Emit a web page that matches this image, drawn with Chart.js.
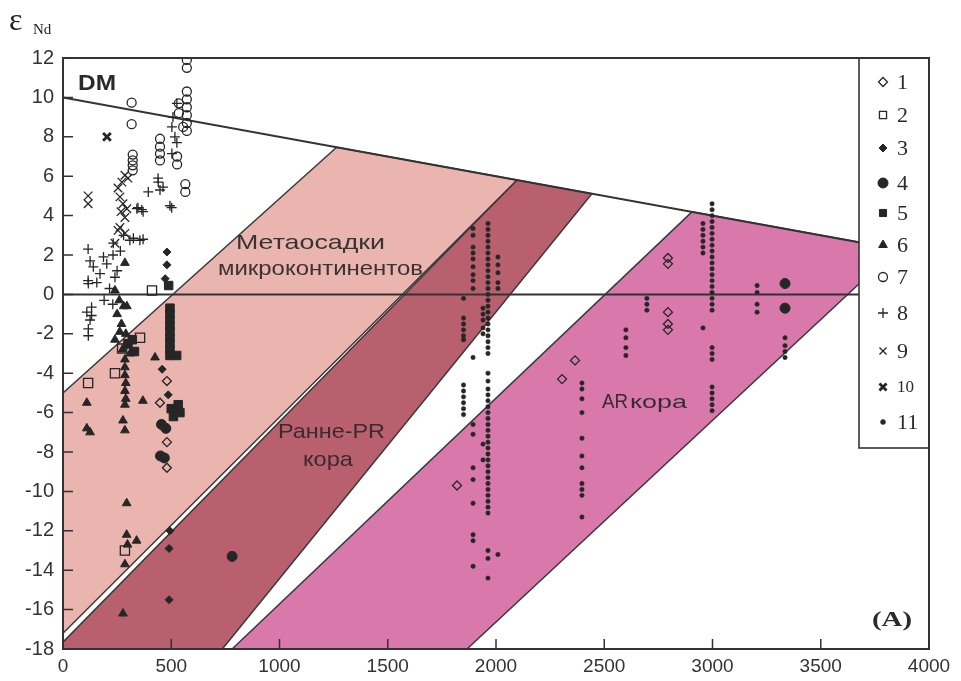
<!DOCTYPE html>
<html>
<head>
<meta charset="utf-8">
<script src="https://cdn.jsdelivr.net/npm/chart.js@4/dist/chart.umd.min.js"></script>
<style>
  html, body { margin: 0; padding: 0; background: #fff; }
  #wrap { width: 961px; height: 681px; }
</style>
</head>
<body>
<div id="wrap"><canvas id="ndChart" width="961" height="681"></canvas></div>
<script>
// axis ticks
const xTicks = [0, 500, 1000, 1500, 2000, 2500, 3000, 3500, 4000];
const yTicks = [-18, -16, -14, -12, -10, -8, -6, -4, -2, 0, 2, 4, 6, 8, 10, 12];

// model lines and fields (age Ma, eps Nd)
const dmLine = [[0, 10], [4000, 2]];
const zeroLine = [[0, 0], [4000, 0]];
const bandMeta = [[0, -5], [1264, 7.47], [2097, 5.81], [0, -17.2], [0, -5]];
const bandEarlyPR = [[0, -17.65], [2097, 5.81], [2443, 5.11], [736, -18], [0, -18], [0, -17.65]];
const bandAR = [[781, -18], [2905, 4.19], [3850, 2.3], [1866, -18], [781, -18]];

// samples, legend groups 1..11
const group1 = [[480, -4.4], [448, -5.5], [480, -7.5], [480, -8.8], [2794, 1.85], [2794, 1.55],
  [2794, -0.9], [2794, -1.5], [2794, -1.8], [2365, -3.35], [2305, -4.3], [1820, -9.7]];
const group2 = [[411, 0.2], [116, -4.5], [240, -4.0], [356, -2.2], [286, -13.0], [273, -2.75]];
const group3 = [[480, 2.15], [480, 1.5], [472, 0.8], [458, -3.8], [486, -5.1], [494, -12.0], [490, -12.9], [490, -15.5]];
const group4 = [[455, -6.6], [475, -6.8], [450, -8.2], [468, -8.3], [781, -13.3], [3335, 0.55], [3335, -0.7]];
const group5 = [[488, 0.45], [494, -0.7], [494, -1.0], [494, -1.3], [494, -1.6], [494, -1.9], [494, -2.2],
  [494, -2.5], [494, -2.8], [494, -3.1], [525, -3.1], [500, -5.8], [520, -5.9], [540, -6.0], [510, -6.2],
  [532, -5.6], [300, -2.5], [320, -2.3], [330, -2.9]];
const group6 = [[110, -5.5], [110, -6.8], [125, -7.0], [277, -6.4], [286, -6.9], [369, -5.4], [294, -10.6],
  [294, -12.2], [298, -12.7], [340, -12.5], [286, -13.7], [277, -16.2], [425, -3.2], [286, -3.3],
  [286, -3.7], [286, -4.1], [290, -4.5], [286, -4.9], [290, -5.3], [286, -5.6], [250, -1.0], [270, -1.5],
  [290, -2.0], [300, -2.6], [275, -2.8], [310, -3.0], [260, -0.3], [280, -0.6], [240, 0.2], [286, 1.6],
  [295, -0.6], [262, -1.9], [240, -2.3]];
const group7 = [[317, 9.73], [317, 8.64], [322, 7.1], [322, 6.8], [322, 6.55], [322, 6.3], [448, 7.9],
  [448, 7.5], [448, 7.15], [448, 6.8], [572, 11.9], [572, 11.5], [572, 10.3], [572, 9.9], [572, 9.5],
  [572, 9.1], [572, 8.7], [572, 8.3], [535, 9.7], [535, 9.2], [527, 7.0], [527, 6.6], [565, 5.6],
  [565, 5.2], [555, 8.5]];
const group8 = [[502, 4.4], [462, 5.45], [440, 5.7], [394, 5.2], [341, 4.35], [370, 4.2], [370, 2.8],
  [325, 2.85], [232, 2.6], [116, 2.3], [187, 1.9], [140, 1.4], [171, 1.05], [117, 0.55], [202, 1.55],
  [110, -0.9], [125, -1.3], [117, -1.75], [132, -0.65], [132, -1.07], [117, -2.1], [364, 4.3], [309, 2.75],
  [355, 2.75], [125, 1.7], [231, 2.0], [116, 0.7], [156, 0.6], [240, 0.87], [448, 5.3], [494, 4.5],
  [346, 4.4], [439, 5.9], [503, 7.15], [517, 8.0], [526, 9.7], [508, 9.0], [503, 8.5], [526, 7.7],
  [280, 3.0], [265, 2.2], [250, 1.2], [215, 0.3], [190, -0.3], [230, -0.5]];
const group9 = [[116, 5.0], [116, 4.6], [272, 5.7], [254, 5.4], [263, 4.95], [277, 4.6], [286, 6.05],
  [295, 4.35], [286, 3.9], [263, 3.4], [254, 3.25], [286, 3.1], [240, 2.6], [300, 5.9], [268, 4.2]];
const group10 = [[203, 8.0]];
// group 11: columns of small dots, [age, [eps values]]
const group11Cols = [
  [1850, [-0.2, -1.2, -1.5, -1.8, -2.1, -2.3, -4.6, -4.9, -5.2, -5.5, -5.8, -6.1]],
  [1894, [3.35, 3.0, 2.4, 2.1, 1.8, 1.4, 1.0, 0.7, 0.3, -3.2, -6.6, -7.1, -8.8, -9.4, -10.6, -12.2, -12.5, -13.8]],
  [1963, [3.6, 3.3, 3.0, 2.7, 2.4, 2.1, 1.8, 1.5, 1.2, 0.9, 0.6, 0.3, 0.0, -0.3, -0.6, -0.9, -1.2, -1.5,
    -1.8, -2.1, -2.4, -2.7, -3.0, -4.0, -4.4, -4.8, -5.1, -5.4, -5.7, -6.0, -6.3, -6.6, -6.9, -7.2, -7.5,
    -7.8, -8.1, -8.4, -8.7, -9.0, -9.3, -9.6, -9.9, -10.2, -10.5, -10.8, -11.1, -13.0, -13.4, -14.4]],
  [1940, [-0.7, -1.0, -1.3, -1.7, -2.0, -7.6, -8.4]],
  [2009, [1.9, 1.5, 1.1, 0.6, 0.3, -13.2]],
  [2397, [-4.5, -4.8, -5.3, -6.0, -7.3, -8.2, -8.8, -9.6, -9.9, -10.2, -11.3]],
  [2600, [-1.8, -2.2, -2.7, -3.1]],
  [2697, [-0.2, -0.5, -0.8]],
  [2998, [4.6, 4.3, 4.0, 3.7, 3.4, 3.1, 2.8, 2.5, 2.2, 1.9, 1.6, 1.3, 1.0, 0.7, 0.4, 0.1, -0.2, -0.5, -0.8,
    -2.7, -3.0, -3.3, -4.7, -5.0, -5.3, -5.6, -5.9]],
  [2956, [3.6, 3.3, 3.0, 2.7, 2.4, 2.1, -1.7]],
  [3206, [0.45, 0.1, -0.5, -0.9]],
  [3335, [-2.2, -2.6, -2.9, -3.2]]
];
const legendLabels = ["1", "2", "3", "4", "5", "6", "7", "8", "9", "10", "11"];

const INK = "#262626";
const toXY = arr => arr.map(p => ({ x: p[0], y: p[1] }));
const group11 = [];
group11Cols.forEach(c => c[1].forEach(v => group11.push([c[0], v])));

// marker styles for the 11 groups
const markers = [
  { pointStyle: "rectRot", radius: 4.5, fill: "rgba(255,255,255,0)", bw: 1.3 },
  { pointStyle: "rect", radius: 6.5, fill: "rgba(255,255,255,0)", bw: 1.3 },
  { pointStyle: "rectRot", radius: 4, fill: INK, bw: 1 },
  { pointStyle: "circle", radius: 5, fill: INK, bw: 1 },
  { pointStyle: "rect", radius: 6, fill: INK, bw: 1 },
  { pointStyle: "triangle", radius: 5, fill: INK, bw: 1 },
  { pointStyle: "circle", radius: 4.5, fill: "rgba(255,255,255,0)", bw: 1.3 },
  { pointStyle: "cross", radius: 5, fill: INK, bw: 1.3 },
  { pointStyle: "crossRot", radius: 6, fill: INK, bw: 1.3 },
  { pointStyle: "crossRot", radius: 5.5, fill: INK, bw: 2.8 },
  { pointStyle: "circle", radius: 2.2, fill: INK, bw: 0.5 }
];
const groups = [group1, group2, group3, group4, group5, group6, group7, group8, group9, group10, group11];

const datasets = [];
groups.forEach((g, i) => {
  const m = markers[i];
  datasets.push({
    label: legendLabels[i],
    data: toXY(g),
    showLine: false,
    pointStyle: m.pointStyle,
    pointRadius: m.radius,
    pointBackgroundColor: m.fill,
    pointBorderColor: INK,
    pointBorderWidth: m.bw,
    order: 0
  });
});
function bandSet(pts, color) {
  return { data: toXY(pts), fill: "shape", backgroundColor: color, borderColor: "#3a3a3a",
    borderWidth: 1.5, pointRadius: 0, tension: 0, order: 3 };
}
datasets.push(bandSet(bandMeta, "#eab5ae"));
datasets.push(bandSet(bandEarlyPR, "#b9606f"));
datasets.push(bandSet(bandAR, "#d878ab"));
datasets.push({ data: toXY(dmLine), borderColor: "#333", borderWidth: 2, pointRadius: 0, fill: false, order: 2 });
datasets.push({ data: toXY(zeroLine), borderColor: "#333", borderWidth: 2, pointRadius: 0, fill: false, order: 2 });

// helper: text squeezed/stretched to a wanted width
function fitText(ctx, str, left, baseline, font, width, color) {
  ctx.save();
  ctx.font = font;
  ctx.fillStyle = color;
  ctx.textBaseline = "alphabetic";
  ctx.textAlign = "left";
  const w = ctx.measureText(str).width;
  ctx.translate(left, baseline);
  ctx.scale(width / w, 1);
  ctx.fillText(str, 0, 0);
  ctx.restore();
}

const decorations = {
  id: "decorations",
  afterDatasetsDraw(chart) {
    const ctx = chart.ctx;
    const a = chart.chartArea;
    const xs = chart.scales.x, ys = chart.scales.y;

    // field captions
    fitText(ctx, "Метаосадки", 236, 249, "21px 'Liberation Sans', Arial", 149, "#3b3333");
    fitText(ctx, "микроконтинентов", 218, 275, "21px 'Liberation Sans', Arial", 205, "#3b3333");
    fitText(ctx, "Ранне-PR", 278, 438, "21px 'Liberation Sans', Arial", 107, "#3b2a2e");
    fitText(ctx, "кора", 303, 466, "21px 'Liberation Sans', Arial", 50, "#3b2a2e");
    fitText(ctx, "AR", 602, 408, "21px 'Liberation Sans', Arial", 26, "#3b2a33");
    fitText(ctx, "кора", 630, 408, "19px 'Liberation Sans', Arial", 57, "#3b2a33");
    fitText(ctx, "DM", 78, 90, "bold 22px 'Liberation Sans', Arial", 38, "#2a2a2a");
    fitText(ctx, "(A)", 872, 626, "bold 22px 'Liberation Serif', 'Times New Roman'", 40, "#2a2a2a");

    // axis title
    ctx.save();
    ctx.fillStyle = "#222";
    ctx.font = "32px 'Liberation Serif', 'Times New Roman'";
    ctx.textBaseline = "alphabetic";
    ctx.fillText("ε", 9, 30);
    ctx.font = "15px 'Liberation Serif', 'Times New Roman'";
    ctx.fillText("Nd", 33, 34);
    ctx.restore();

    // legend box inside plot
    const lx = 859, ly = a.top, lw = a.right - 859, lh = 448 - a.top;
    ctx.save();
    ctx.fillStyle = "#fff";
    ctx.fillRect(lx, ly, lw, lh);
    ctx.strokeStyle = "#333";
    ctx.lineWidth = 1.6;
    ctx.strokeRect(lx, ly, lw, lh);
    const rowY = [82, 115, 148, 183, 213, 245, 277, 313, 351, 387, 422];
    markers.forEach((m, i) => {
      ctx.fillStyle = m.fill;
      ctx.strokeStyle = INK;
      ctx.lineWidth = m.bw;
      Chart.helpers.drawPoint(ctx, { pointStyle: m.pointStyle, radius: Math.min(Math.max(m.radius, 2.5), 5), borderWidth: m.bw, rotation: 0 }, 883, rowY[i]);
      ctx.fillStyle = "#2a2a2a";
      ctx.font = (i === 9 ? "17px" : "22px") + " 'Liberation Serif', 'Times New Roman'";
      ctx.textBaseline = "middle";
      ctx.fillText(legendLabels[i], 897, rowY[i] + 1);
    });
    ctx.restore();

    // frame and inward ticks
    ctx.save();
    ctx.strokeStyle = "#333";
    ctx.lineWidth = 2;
    ctx.strokeRect(a.left, a.top, a.right - a.left, a.bottom - a.top);
    ctx.lineWidth = 1.5;
    ctx.beginPath();
    yTicks.forEach(v => {
      const py = ys.getPixelForValue(v);
      ctx.moveTo(a.left, py);
      ctx.lineTo(a.left + 10, py);
    });
    xTicks.forEach(v => {
      const px = xs.getPixelForValue(v);
      ctx.moveTo(px, a.bottom);
      ctx.lineTo(px, a.bottom - 10);
    });
    ctx.stroke();
    ctx.restore();
  }
};

new Chart(document.getElementById("ndChart"), {
  type: "line",
  data: { datasets: datasets },
  plugins: [decorations],
  options: {
    responsive: false,
    animation: false,
    layout: { padding: { left: 0, right: 32, top: 58, bottom: 0 } },
    plugins: { legend: { display: false }, tooltip: { enabled: false } },
    scales: {
      x: {
        type: "linear", min: 0, max: 4000,
        afterBuildTicks: s => { s.ticks = xTicks.map(v => ({ value: v })); },
        afterFit: s => { s.height = 32; },
        grid: { display: false, drawTicks: false },
        border: { display: false },
        ticks: { padding: 6, color: "#333", font: { family: "'Liberation Sans', Arial", size: 19 },
          callback: v => String(v) }
      },
      y: {
        type: "linear", min: -18, max: 12,
        afterBuildTicks: s => { s.ticks = yTicks.map(v => ({ value: v })); },
        afterFit: s => { s.width = 63; },
        grid: { display: false, drawTicks: false },
        border: { display: false },
        ticks: { padding: 9, color: "#333", font: { family: "'Liberation Sans', Arial", size: 20 },
          callback: v => String(v) }
      }
    }
  }
});
</script>
</body>
</html>
